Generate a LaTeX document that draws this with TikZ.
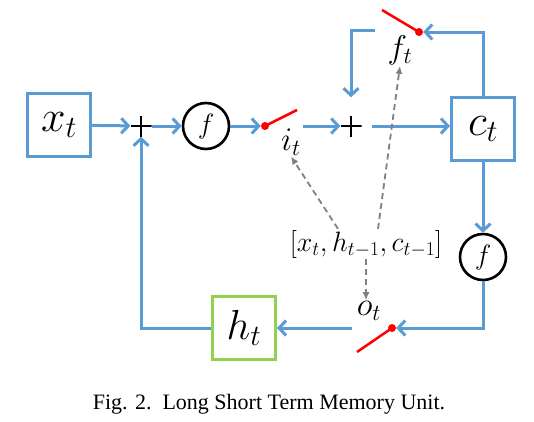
\RequirePackage{fix-cm}
\documentclass[tikz,border=0pt]{standalone}
\usepackage{fontspec}
\setmainfont{Liberation Serif}
\usetikzlibrary{arrows.meta}
\definecolor{lblue}{RGB}{91,155,213}
\definecolor{lgreen}{RGB}{146,208,80}
\definecolor{gred}{RGB}{255,0,0}
\definecolor{dgray}{RGB}{128,128,128}
\begin{document}
\begin{tikzpicture}[x=1pt,y=-1pt,
  arr/.style={draw=lblue,line width=3pt,-{Straight Barb[length=7pt,width=15pt]}},
  bbox/.style={line width=3pt,minimum width=63pt,minimum height=63pt,inner sep=0},
  fc/.style={circle,draw=black,line width=2.6pt,minimum size=46pt,inner sep=0},
  gate/.style={circle,fill=gred,inner sep=0,minimum size=8pt},
  sw/.style={draw=gred,line width=2.5pt},
  dsh/.style={draw=dgray,line width=1.8pt,dash pattern=on 6pt off 4pt,-{Latex[length=8pt,width=7pt]}},
  plus/.style={minimum size=21pt,inner sep=0,path picture={
     \draw[line width=1.7pt,black] (path picture bounding box.north) -- (path picture bounding box.south)
       (path picture bounding box.west) -- (path picture bounding box.east);}},
  lbl/.style={inner sep=1pt}
]
\useasboundingbox (0,0) rectangle (534,421);
% nodes
\node[bbox,draw=lblue] (x) at (59,125) {\fontsize{44}{44}\selectfont $x_t$};
\node[plus] (p1) at (141,126) {};
\node[fc] (f1) at (206,126) {\fontsize{28}{28}\selectfont $f$};
\coordinate (s1) at (297,110);
\draw[sw] (265,126) coordinate (g1c) -- (s1);
\node[gate] (g1) at (g1c) {};
\node[lbl] (it) at (291,142) {\fontsize{33}{33}\selectfont $i_t$};
\coordinate (a1) at (303,126);
\node[plus] (p2) at (351,126) {};
\coordinate (a2) at (372,126);
\node[bbox,draw=lblue] (c) at (483,129) {\fontsize{44}{44}\selectfont $c_t$};
\coordinate (s2) at (382,10);
\draw[sw] (419,32) coordinate (g2c) -- (s2);
\node[gate] (g2) at (g2c) {};
\node[lbl] (ft) at (400,50) {\fontsize{33}{33}\selectfont $f_t$};
\coordinate (l1) at (375,30);
\node[fc] (f2) at (483,257) {\fontsize{28}{28}\selectfont $f$};
\coordinate (s3) at (357,352);
\draw[sw] (392,328) coordinate (g3c) -- (s3);
\node[gate] (g3) at (g3c) {};
\node[lbl] (ot) at (369,311) {\fontsize{33}{33}\selectfont $o_t$};
\coordinate (a3) at (352,328);
\node[bbox,draw=lgreen] (h) at (244,328) {\fontsize{42}{42}\selectfont $h_t$};
\coordinate (k1) at (141,328);
\node[inner sep=1pt] (lab) at (366,244) {\fontsize{28}{28}\selectfont $[x_t,h_{t-1},c_{t-1}]$};
\node[anchor=base,inner sep=0] (cap) at (269,409) {\fontsize{22}{22}\selectfont Fig. 2.\ \ Long Short Term Memory Unit.};
% connectors
\draw[arr] (x) -- (p1);
\draw[arr] (p1) -- (f1);
\draw[arr] (f1) -- (g1);
\draw[arr] (a1) -- (p2);
\draw[arr] (a2) -- (a2 -| c.west);
\draw[arr] (c.north) -- (c.north |- g2) -- (g2);
\draw[arr,shorten >=18pt] (l1) -- (p2 |- l1) -- (p2.north);
\draw[arr] (c.south) -- (f2);
\draw[arr] (f2.south) -- (f2.south |- g3) -- (g3);
\draw[arr] (a3) -- (h.east);
\draw[arr] (h.west) -- (k1) -- (p1);
\draw[dsh] ([xshift=-28pt]lab.north) -- (it.south);
\draw[dsh] ([xshift=12pt]lab.north) -- (ft.south);
\draw[dsh] (lab.south) -- (lab.south |- ot.north);
\end{tikzpicture}
\end{document}
